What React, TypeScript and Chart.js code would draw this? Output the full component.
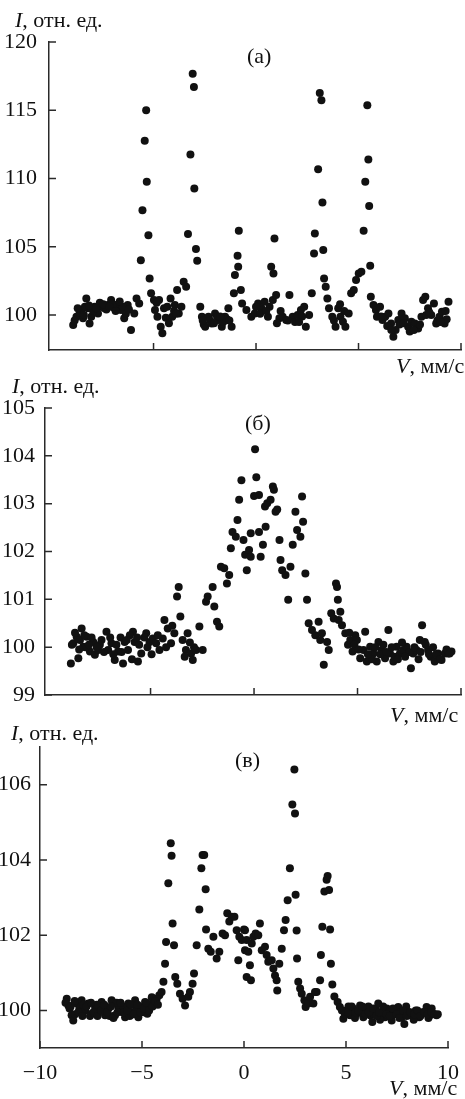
import React, { useEffect, useRef } from "react";
import { Chart, registerables } from "chart.js";
Chart.register(...registerables);

const FONT = "'Liberation Serif', 'Times New Roman', serif";
const INK = "#111111";
const AXIS = "#2a2a2a";

// ---------- Panel (а) ----------
const velA = [
  -8.92, -8.76, -8.52, -8.44, -8.28, -8.2, -8.12, -8.04, -7.87, -7.71,
  -7.55, -7.39, -7.23, -7.07, -6.91, -6.75, -6.59, -6.43, -6.26, -6.1,
  -5.94, -5.83, -5.7, -5.62, -5.54, -5.43, -5.36, -5.33, -5.25, -5.19,
  -5.12, -4.98, -4.93, -4.81, -4.73, -4.65, -4.57, -4.49, -4.33, -4.17,
  -4.09, -3.96, -3.85, -3.77, -3.64, -3.53, -3.41, -3.32, -3.2, -3.09,
  -3.03, -3.01, -2.93, -2.87, -2.72, -2.64, -2.48, -2.32, -2.16, -2.0,
  -1.84, -1.67, -1.51, -1.35, -1.19, -1.08, -1.03, -0.9, -0.87, -0.84,
  -0.74, -0.68, -0.47, -0.23, -0.06, 0.1, 0.26, 0.42, 0.58, 0.66,
  0.82, 0.98, 0.74, 0.85, 0.9, 1.14, 1.3, 1.47, 1.63, 1.79,
  2.03, 2.19, 2.35, 2.43, 2.59, 2.72, 2.83, 2.87, 3.03, 3.11,
  3.19, 3.24, 3.28, 3.32, 3.4, 3.48, 3.56, 3.72, 3.88, 4.01,
  4.12, 4.24, 4.36, 4.52, 4.64, 4.77, 4.88, 5.01, 5.14, 5.25,
  5.33, 5.43, 5.48, 5.52, 5.57, 5.6, 5.73, 5.85, 5.9, 6.05,
  6.17, 6.3, 6.46, 6.59, 6.7, 6.81, 6.94, 7.1, 7.26, 7.42,
  7.58, 7.75, 7.91, 8.07, 8.15, 8.26, 8.39, 8.55, 8.68, 8.79,
  8.95, 9.07, 9.2, 9.39,
  -8.6, -8.35, -7.95, -7.62, -7.3, -6.98, -6.5, -6.35, -4.4, -4.0,
  -2.55, -2.24, -1.9, -1.42, -1.6, 0.2, 1.02, 1.9, 2.25, 4.3,
  6.4, 7.0, 7.5, 8.3, 8.85, 9.3,
  -8.85, -8.7, -8.4, -8.15, -7.8, -7.45, -7.15, -6.85, -6.65, -6.2,
  -4.85, -4.25, -3.9, -2.6, -2.05, -1.75, -1.3, 0.0, 0.5, 1.2,
  1.55, 2.1, 3.8, 4.1, 6.1, 6.6, 7.2, 7.7, 8.0, 8.45,
  9.0, 9.25,
];
const intA = [
  99.27, 99.88, 100.37, 99.76, 101.22, 100.49, 99.39, 99.88, 100.61, 100.12,
  100.61, 100.49, 100.73, 101.1, 100.49, 100.73, 100.37, 99.76, 100.73, 98.9,
  100.12, 101.22, 100.85, 104.02, 107.68, 112.76, 115.0, 109.76, 105.85, 102.68,
  101.59, 101.1, 100.37, 99.88, 101.1, 99.15, 98.66, 100.49, 100.61, 101.22,
  99.88, 100.73, 101.83, 100.12, 100.61, 102.44, 102.07, 105.93, 111.76, 117.68,
  116.71, 109.27, 104.83, 103.98, 100.61, 99.88, 99.15, 99.88, 99.39, 100.12,
  99.63, 99.15, 99.88, 100.49, 99.15, 101.59, 102.93, 104.34, 103.54, 106.17,
  101.83, 100.85, 100.37, 99.88, 100.12, 100.85, 100.49, 100.98, 99.88, 100.61,
  101.1, 101.46, 103.54, 103.05, 105.61, 99.76, 99.88, 99.63, 101.46, 99.88,
  100.0, 100.37, 100.61, 99.15, 100.0, 101.59, 104.51, 105.98, 110.68, 116.27,
  115.73, 108.24, 104.76, 102.68, 102.07, 101.22, 100.49, 99.88, 99.15, 100.49,
  99.88, 99.51, 99.15, 100.12, 101.59, 101.83, 102.56, 103.05, 103.17, 106.17,
  109.76, 115.37, 111.39, 107.98, 103.61, 101.34, 100.73, 100.37, 99.88, 100.61,
  99.63, 99.88, 100.12, 99.39, 98.41, 98.9, 99.63, 100.12, 99.76, 99.15,
  99.51, 99.39, 99.02, 99.88, 101.1, 101.34, 100.49, 100.0, 100.85, 99.39,
  99.88, 100.24, 99.39, 100.98,
  100.2, 100.6, 100.3, 100.9, 100.4, 100.8, 100.6, 100.1, 99.8, 100.3,
  99.3, 99.6, 99.9, 99.7, 99.5, 100.1, 99.4, 99.5, 99.9, 100.3,
  99.2, 99.3, 98.8, 100.0, 99.6, 99.7,
  99.6, 100.5, 100.0, 100.7, 100.5, 100.8, 100.6, 100.3, 101.0, 100.4,
  100.9, 99.4, 100.1, 99.6, 99.4, 99.9, 99.6, 100.6, 100.3, 100.3,
  99.6, 99.5, 99.6, 100.8, 99.9, 98.9, 99.4, 98.9, 99.3, 100.2,
  99.5, 100.3,
];
const yTicksA = [100, 105, 110, 115, 120];
const xTicksA = [-5, 0, 5, 10];

// ---------- Panel (б) ----------
const velB = [
  -8.85, -8.49, -8.73, -8.57, -8.33, -8.41, -8.25, -8.09, -7.93, -7.77,
  -7.69, -7.53, -7.37, -7.13, -7.05, -6.89, -6.73, -6.57, -6.33, -6.25,
  -6.09, -5.85, -5.77, -5.61, -5.45, -5.21, -5.05, -4.89, -4.73, -4.57,
  -4.41, -4.33, -4.17, -4.01, -3.85, -3.72, -3.64, -3.56, -3.45, -3.29,
  -3.21, -3.04, -2.96, -2.8, -2.64, -2.48, -2.32, -2.24, -2.0, -1.92,
  -1.79, -1.68, -1.6, -1.44, -1.31, -1.2, -1.12, -1.04, -0.88, -0.8,
  -0.72, -0.61, -0.51, -0.43, -0.35, -0.24, -0.16,
  0.05, 0.11, 0.0, 0.24, 0.24, -0.16, 0.32, 0.43, 0.56, 0.53,
  0.64, 0.8, 0.91, 0.96, 1.04, 1.12, 1.23, 1.28, 1.36, 1.52,
  1.65, 1.76, 1.87, 2.0, 2.08, 2.24, 2.32, 2.37, 2.48, 2.56,
  2.64, 2.8, 2.96, 3.12, 3.2, 3.28, 3.37, 3.53, 3.61, 3.73,
  3.85, 3.96, 4.01, 4.05, 4.09, 4.17, 4.25, 4.41, 4.54, 4.65,
  4.76, 4.89, 4.97, 5.13, 5.29, 5.37, 5.45, 5.61, 5.77, 5.93,
  6.01, 6.17, 6.33, 6.49, 6.57, 6.73, 6.89, 7.05, 7.21, 7.37,
  7.58, 7.69, 7.85, 8.01, 8.12, 8.25, 8.41, 8.54, 8.73, 8.89,
  9.06, 9.22, 9.38, 9.54,
  -8.65, -8.15, -7.85, -7.45, -6.8, -6.45, -6.0, -5.55, -5.3, 5.7,
  6.25, 6.8, 7.15, 7.5, 7.95, 8.3, 8.8,
  -8.8, -8.45, -8.2, -7.98, -7.6, -7.25, -6.95, -6.65, -6.4, -6.15,
  -5.9, -5.65, -5.15, -4.95, -4.65, -4.25, -3.95, -3.35, -3.1, -2.9,
  4.6, 4.85, 5.05, 5.5, 5.85, 6.1, 6.4, 6.65, 6.95, 7.3,
  7.75, 8.05, 8.45, 8.65, 9.0, 9.3, 9.45,
];
const intB = [
  99.66, 99.77, 100.08, 100.22, 100.39, 100.15, 100.01, 100.22, 99.91, 100.11,
  99.84, 99.94, 100.15, 100.32, 99.94, 100.08, 99.73, 99.91, 99.66, 100.11,
  99.94, 100.32, 100.11, 99.7, 99.87, 100.29, 100.11, 100.18, 100.08, 99.94,
  100.18, 100.57, 100.39, 100.08, 100.29, 101.06, 101.26, 100.64, 100.15, 99.94,
  100.29, 99.87, 99.73, 99.94, 100.43, 99.94, 100.95, 101.06, 101.26, 100.85,
  100.53, 100.43, 101.68, 101.65, 101.33, 101.51, 102.07, 102.41, 102.31, 102.66,
  103.08, 103.49, 102.24, 101.93, 101.61, 102.03, 102.38,
  104.14, 103.55, 103.16, 103.18, 102.41, 101.89, 101.89, 102.14, 102.52, 102.94,
  103.01, 103.08, 103.36, 103.29, 102.83, 102.88, 102.24, 101.82, 101.61, 101.51,
  100.99, 101.68, 102.14, 102.83, 102.45, 102.31, 103.15, 102.62, 101.54, 100.99,
  100.5, 100.36, 100.25, 100.53, 100.15, 100.29, 99.63, 100.11, 99.94, 100.71,
  100.6, 101.33, 101.26, 100.99, 100.57, 100.74, 100.46, 100.29, 100.05, 100.15,
  99.91, 100.25, 100.15, 99.77, 99.94, 100.32, 99.7, 100.01, 99.87, 99.7,
  100.11, 99.94, 99.77, 100.36, 99.87, 99.7, 100.01, 99.87, 99.94, 100.01,
  99.56, 99.87, 99.94, 100.15, 100.46, 100.11, 99.94, 99.8, 99.7, 99.87,
  99.73, 99.87, 99.87, 99.91,
  100.3, 100.0, 100.2, 100.05, 99.85, 100.2, 100.25, 100.05, 100.2, 99.75,
  100.05, 99.8, 100.1, 99.9, 99.75, 100.05, 99.85,
  100.05, 99.95, 100.25, 100.05, 100.0, 99.9, 100.2, 100.05, 99.9, 100.15,
  99.75, 100.2, 100.0, 99.85, 100.25, 100.0, 100.45, 99.8, 100.1, 100.0,
  100.3, 100.05, 99.95, 99.85, 100.0, 99.85, 99.9, 100.0, 99.75, 99.8,
  100.0, 99.9, 99.85, 100.0, 99.75, 99.95, 99.87,
];
const yTicksB = [99, 100, 101, 102, 103, 104, 105];
const xTicksB = [-5, 0, 5, 10];

// ---------- Panel (в) ----------
const velC = [
  -8.69, -8.61, -8.45, -8.37, -8.2, -8.07, -7.96, -7.79, -7.63, -7.47,
  -7.3, -7.14, -6.98, -6.81, -6.65, -6.49, -6.32, -6.16, -6.0, -5.83,
  -5.67, -5.51, -5.34, -5.18, -5.02, -4.85, -4.74, -4.61, -4.44, -4.28,
  -4.15, -4.04, -3.95, -3.87, -3.82, -3.71, -3.59, -3.55, -3.5, -3.43,
  -3.37, -3.27, -3.14, -3.01, -2.89, -2.73, -2.65, -2.52, -2.45, -2.32,
  -2.19, -2.09, -2.03, -1.95, -1.88, -1.86, -1.75, -1.63, -1.5, -1.34,
  -1.21, -1.05, -0.93, -0.82, -0.72, -0.6, -0.47, -0.36, -0.23, -0.11,
  -0.28, 0.0, 0.05, 0.13,
  0.05, 0.13, 0.21, 0.29, 0.34, 0.38, 0.46, 0.57, 0.7, 0.78,
  0.87, 1.03, 1.11, 1.19, 1.36, 1.44, 1.52, 1.6, 1.63, 1.73,
  1.85, 1.96, 2.04, 2.14, 2.25, 2.37, 2.5, 2.47, 2.53, 2.58,
  2.6, 2.66, 2.75, 2.83, 2.96, 3.02, 3.15, 3.24, 3.4, 3.48,
  3.56, 3.73, 3.77, 3.84, 3.94, 4.05, 4.1, 4.17, 4.22, 4.26,
  4.33, 4.43, 4.59, 4.7, 4.87, 5.03, 5.2, 5.36, 5.52, 5.69,
  5.85, 6.01, 6.18, 6.29, 6.45, 6.58, 6.75, 6.91, 7.07, 7.24,
  7.4, 7.56, 7.73, 7.86, 8.05, 8.22, 8.42, 8.59, 8.79, 8.95,
  9.12, 9.28, 9.44,
  -8.55, -8.28, -7.88, -7.55, -7.22, -6.9, -6.58, -6.24, -5.92, -5.6,
  -5.26, -4.93, -4.52, 5.12, 5.44, 5.77, 6.1, 6.37, 6.67, 7.0,
  7.32, 7.65, 7.95, 8.32, 8.69, 9.04, 9.2,
  -8.75, -8.5, -8.3, -8.12, -7.92, -7.72, -7.5, -7.38, -7.18, -7.0,
  -6.85, -6.7, -6.52, -6.4, -6.2, -6.05, -5.88, -5.72, -5.55, -5.4,
  -5.22, -5.08, -4.9, -4.78, -4.65, -4.48, -4.36, -4.22,
  4.8, 4.95, 5.1, 5.28, 5.47, 5.6, 5.8, 5.95, 6.12, 6.33,
  6.5, 6.62, 6.82, 6.98, 7.15, 7.3, 7.48, 7.62, 7.8, 7.98,
  8.15, 8.35, 8.5, 8.65, 8.85, 9.0, 9.18, 9.35, 9.5,
];
const intC = [
  100.31, 100.13, 99.87, 99.73, 100.18, 100.04, 100.27, 100.0, 100.18, 99.91,
  100.09, 99.96, 100.22, 99.87, 100.04, 100.27, 99.87, 100.09, 99.96, 99.82,
  100.18, 99.96, 100.27, 99.82, 100.09, 100.22, 99.91, 100.13, 100.22, 100.31,
  100.4, 100.49, 100.76, 101.24, 101.82, 103.38, 104.44, 104.11, 102.31, 101.73,
  100.89, 100.71, 100.44, 100.31, 100.13, 100.36, 100.49, 100.71, 100.98, 101.73,
  102.68, 103.78, 104.13, 104.13, 103.22, 102.15, 101.64, 101.56, 101.96, 101.38,
  101.56, 102.04, 102.0, 102.58, 102.36, 102.49, 102.49, 102.13, 101.96, 101.87,
  101.33, 102.15, 101.6, 100.89,
  102.13, 101.87, 101.56, 101.2, 100.8, 101.78, 101.96, 102.04, 102.0, 102.31,
  101.6, 101.69, 101.47, 101.29, 101.33, 101.11, 100.93, 100.8, 100.53, 101.24,
  101.64, 102.13, 102.4, 102.93, 103.78, 105.47, 105.23, 106.4, 103.07, 102.12,
  101.38, 100.76, 100.58, 100.44, 100.27, 100.09, 100.18, 100.36, 100.18, 100.49,
  100.49, 100.8, 101.47, 102.22, 103.16, 103.47, 103.57, 103.2, 102.15, 101.24,
  100.69, 100.37, 100.22, 100.09, 99.78, 100.0, 99.87, 100.04, 99.91, 100.13,
  99.82, 100.0, 99.87, 99.69, 100.04, 100.18, 99.91, 99.82, 99.96, 99.73,
  100.0, 100.09, 99.82, 99.64, 99.96, 99.87, 100.0, 99.82, 99.96, 100.09,
  99.87, 99.91, 99.87,
  100.05, 99.9, 100.15, 99.85, 100.15, 100.05, 99.85, 100.2, 100.1, 99.85,
  100.05, 99.95, 100.35, 100.1, 99.8, 99.95, 100.1, 99.9, 99.75, 100.05,
  99.9, 99.95, 100.1, 99.75, 99.9, 99.8, 100.05,
  100.2, 100.1, 100.25, 99.95, 99.85, 100.1, 100.2, 99.95, 99.85, 100.0,
  100.15, 99.95, 100.1, 99.8, 99.95, 100.2, 99.95, 100.0, 100.15, 99.9,
  100.15, 99.95, 100.05, 100.2, 100.0, 100.1, 100.25, 100.15,
  100.0, 99.9, 99.95, 100.1, 99.95, 100.0, 100.1, 99.9, 99.95, 100.05,
  99.85, 99.95, 100.1, 99.9, 99.85, 100.05, 99.9, 99.8, 100.0, 99.85,
  99.95, 99.9, 100.0, 99.85, 99.95, 99.9, 99.95, 99.9, 99.9,
];
const yTicksC = [100, 102, 104, 106];
const xTicksC = [-10, -5, 0, 5, 10];

const W = 465;

const inwardTicks = {
  id: "inwardTicks",
  afterDraw(chart: any) {
    const { ctx, chartArea, scales } = chart;
    const len = 7;
    ctx.save();
    ctx.strokeStyle = AXIS;
    ctx.lineWidth = 1.5;
    ctx.beginPath();
    for (const t of scales.x.ticks) {
      const px = scales.x.getPixelForValue(t.value);
      ctx.moveTo(px, chartArea.bottom);
      ctx.lineTo(px, chartArea.bottom - len);
    }
    for (const t of scales.y.ticks) {
      const py = scales.y.getPixelForValue(t.value);
      ctx.moveTo(chartArea.left, py);
      ctx.lineTo(chartArea.left + len, py);
    }
    ctx.stroke();
    ctx.restore();
  },
};

type PanelProps = {
  top: number;
  height: number;
  area: { left: number; top: number; right: number; bottom: number };
  xs: number[];
  ys: number[];
  xMin: number;
  xMax: number;
  yMin: number;
  yMax: number;
  xTicks: number[];
  yTicks: number[];
  showX: boolean;
  yPad: number;
};

function Panel(p: PanelProps) {
  const ref = useRef<HTMLCanvasElement | null>(null);
  useEffect(() => {
    if (!ref.current) return;
    const fmt = (v: any) => String(v).replace("-", "\u2212");
    const chart = new Chart(ref.current, {
      type: "scatter",
      data: {
        datasets: [
          {
            data: p.xs.map((x, i) => ({ x, y: p.ys[i] })),
            backgroundColor: INK,
            borderWidth: 0,
            pointRadius: 4,
            pointHoverRadius: 4,
          },
        ],
      },
      options: {
        animation: false,
        responsive: false,
        maintainAspectRatio: false,
        events: [],
        layout: {
          padding: { top: p.area.top, right: W - p.area.right, left: 0, bottom: 0 },
        },
        plugins: { legend: { display: false }, tooltip: { enabled: false } },
        scales: {
          x: {
            type: "linear",
            min: p.xMin,
            max: p.xMax,
            grid: { display: false },
            border: { display: true, color: AXIS, width: 1.5 },
            afterBuildTicks: (s: any) => {
              s.ticks = p.xTicks.map((v) => ({ value: v }));
            },
            afterFit: (s: any) => {
              s.height = p.height - p.area.bottom;
            },
            ticks: {
              display: p.showX,
              color: INK,
              font: { family: FONT, size: 22 },
              padding: 4,
              maxRotation: 0,
              autoSkip: false,
              callback: fmt,
            },
          },
          y: {
            type: "linear",
            min: p.yMin,
            max: p.yMax,
            grid: { display: false },
            border: { display: true, color: AXIS, width: 1.5 },
            afterBuildTicks: (s: any) => {
              s.ticks = p.yTicks.map((v) => ({ value: v }));
            },
            afterFit: (s: any) => {
              s.width = p.area.left;
            },
            ticks: {
              color: INK,
              font: { family: FONT, size: 22 },
              padding: p.yPad,
              autoSkip: false,
              callback: fmt,
            },
          },
        },
      },
      plugins: [inwardTicks],
    } as any);
    return () => chart.destroy();
  }, []);
  return (
    <canvas
      ref={ref}
      width={W}
      height={p.height}
      style={{ position: "absolute", left: 0, top: p.top, width: W, height: p.height }}
    />
  );
}

const textStyle: React.CSSProperties = {
  position: "absolute",
  fontFamily: FONT,
  fontSize: 22,
  lineHeight: "22px",
  color: INK,
  whiteSpace: "nowrap",
};

function Label({ left, baseline, children }: { left: number; baseline: number; children: React.ReactNode }) {
  return <div style={{ ...textStyle, left, top: baseline - 18.4 }}>{children}</div>;
}

const ITitle = () => (
  <>
    <i>I</i>, отн. ед.
  </>
);
const VTitle = () => (
  <>
    <i>V</i>, мм/с
  </>
);

export default function App() {
  return (
    <div style={{ position: "absolute", left: 0, top: 0, width: W, height: 1099, background: "#fff", overflow: "hidden" }}>
      <Panel
        top={0}
        height={375}
        area={{ left: 49, top: 42, right: 465, bottom: 350 }}
        xs={velA}
        ys={intA}
        xMin={-10.1}
        xMax={10}
        yMin={97.44}
        yMax={120}
        xTicks={xTicksA}
        yTicks={yTicksA}
        showX={false}
        yPad={4}
      />
      <Panel
        top={375}
        height={345}
        area={{ left: 45, top: 33, right: 463, bottom: 320 }}
        xs={velB}
        ys={intB}
        xMin={-10.1}
        xMax={10}
        yMin={99}
        yMax={105}
        xTicks={xTicksB}
        yTicks={yTicksB}
        showX={false}
        yPad={2}
      />
      <Panel
        top={720}
        height={379}
        area={{ left: 40, top: 27, right: 448, bottom: 328 }}
        xs={velC}
        ys={intC}
        xMin={-10}
        xMax={10}
        yMin={99}
        yMax={107}
        xTicks={xTicksC}
        yTicks={yTicksC}
        showX={true}
        yPad={1}
      />
      <Label left={15} baseline={27}><ITitle /></Label>
      <Label left={247} baseline={63}>(а)</Label>
      <Label left={396} baseline={373}><VTitle /></Label>
      <Label left={12} baseline={393}><ITitle /></Label>
      <Label left={245} baseline={430}>(б)</Label>
      <Label left={390} baseline={722}><VTitle /></Label>
      <Label left={11} baseline={740}><ITitle /></Label>
      <Label left={235} baseline={767}>(в)</Label>
      <Label left={389} baseline={1095}><VTitle /></Label>
    </div>
  );
}
